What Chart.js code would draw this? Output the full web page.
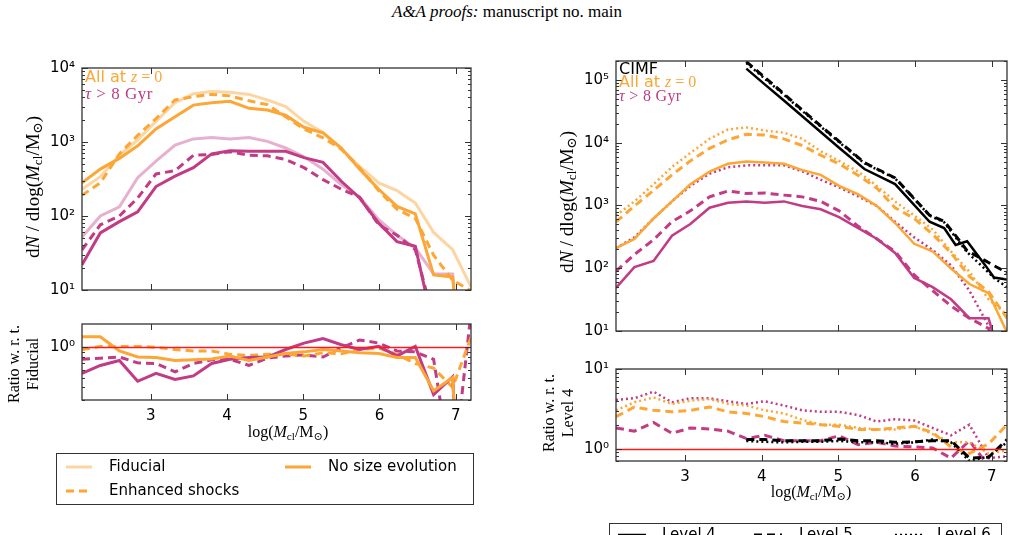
<!DOCTYPE html>
<html>
<head>
<meta charset="utf-8">
<script src="https://cdn.jsdelivr.net/npm/chart.js@4.4.0/dist/chart.umd.min.js"></script>
<style>
  body { margin: 0; width: 1014px; height: 535px; background: #fff; position: relative; overflow: hidden; font-family: "DejaVu Sans", sans-serif; }
  canvas { position: absolute; }
  .abs { position: absolute; white-space: nowrap; }
  .serif { font-family: "Liberation Serif", "DejaVu Serif", serif; }
  .rot { position: absolute; transform: translate(-50%, -50%) rotate(-90deg); white-space: nowrap; text-align: center; }
  .lg { position: absolute; border: 1.5px solid #333; background: #fff; }
  .lg .item { position: absolute; font-size: 15px; white-space: nowrap; }
  sub { font-size: 70%; vertical-align: -0.25em; line-height: 0; }
</style>
</head>
<body>

<div class="abs serif" style="left:0;top:2px;width:1014px;text-align:center;font-size:17px"><i>A&amp;A proofs:</i> manuscript no. main</div>

<canvas id="cLeftTop"></canvas>
<canvas id="cLeftRatio"></canvas>
<canvas id="cRightTop"></canvas>
<canvas id="cRightRatio"></canvas>

<!-- annotations -->
<div class="abs" style="left:85px;top:68px;font-size:16px;line-height:17px;color:#fca636">All at <span class="serif"><i>z</i> = 0</span></div>
<div class="abs serif" style="left:85px;top:84px;font-size:17px;letter-spacing:0.5px;color:#c23b85"><i>τ</i> &gt; 8 Gyr</div>

<div class="abs" style="left:619px;top:60px;font-size:16px;line-height:17px;color:#000">CIMF</div>
<div class="abs" style="left:619px;top:73px;font-size:16px;line-height:17px;color:#fca636">All at <span class="serif"><i>z</i> = 0</span></div>
<div class="abs serif" style="left:619px;top:87px;font-size:16px;letter-spacing:0.3px;color:#c23b85"><i>τ</i> &gt; 8 Gyr</div>

<!-- axis titles -->
<div class="rot serif" style="left:33px;top:187px;font-size:19px">d<i>N</i> / dlog(<i>M</i><sub>cl</sub>/M<sub>⊙</sub>)</div>
<div class="rot serif" style="left:567px;top:202px;font-size:19px">d<i>N</i> / dlog(<i>M</i><sub>cl</sub>/M<sub>⊙</sub>)</div>
<div class="rot serif" style="left:23px;top:364px;font-size:16px;line-height:19px">Ratio w. r. t.<br>Fiducial</div>
<div class="rot serif" style="left:558px;top:413px;font-size:16px;line-height:19px">Ratio w. r. t.<br>Level 4</div>
<div class="abs serif" style="left:228px;top:423px;width:120px;text-align:center;font-size:16px">log(<i>M</i><sub>cl</sub>/M<sub>⊙</sub>)</div>
<div class="abs serif" style="left:751px;top:483px;width:120px;text-align:center;font-size:16px">log(<i>M</i><sub>cl</sub>/M<sub>⊙</sub>)</div>

<!-- legends -->
<div class="lg" style="left:56px;top:453px;width:416px;height:50px">
  <svg class="item" style="left:9px;top:10px" width="28" height="6"><line x1="0" y1="3" x2="26" y2="3" stroke="#fdd5a2" stroke-width="3"/></svg>
  <div class="item" style="left:52px;top:3px">Fiducial</div>
  <svg class="item" style="left:228px;top:10px" width="28" height="6"><line x1="0" y1="3" x2="26" y2="3" stroke="#fca636" stroke-width="3"/></svg>
  <div class="item" style="left:271px;top:3px">No size evolution</div>
  <svg class="item" style="left:9px;top:34px" width="28" height="6"><line x1="0" y1="3" x2="26" y2="3" stroke="#fca636" stroke-width="3" stroke-dasharray="8,5"/></svg>
  <div class="item" style="left:52px;top:27px">Enhanced shocks</div>
</div>
<div class="lg" style="left:609px;top:523px;width:391px;height:40px">
  <svg class="item" style="left:8px;top:8px" width="30" height="6"><line x1="0" y1="3" x2="28" y2="3" stroke="#000" stroke-width="2.5"/></svg>
  <div class="item" style="left:52px;top:1px">Level 4</div>
  <svg class="item" style="left:144px;top:8px" width="30" height="6"><line x1="0" y1="3" x2="28" y2="3" stroke="#000" stroke-width="3" stroke-dasharray="8,5"/></svg>
  <div class="item" style="left:189px;top:1px">Level 5</div>
  <svg class="item" style="left:285px;top:8px" width="30" height="6"><line x1="0" y1="3" x2="28" y2="3" stroke="#000" stroke-width="2.5" stroke-dasharray="2,3"/></svg>
  <div class="item" style="left:327px;top:1px">Level 6</div>
</div>

<script>
// mass bins, log(Mcl/Msun)
const xBins = [2.10, 2.34, 2.59, 2.83, 3.07, 3.32, 3.56, 3.80, 4.04, 4.29, 4.53, 4.77, 5.01, 5.26, 5.50, 5.74, 5.99, 6.23, 6.47, 6.71, 6.96, 7.20];
const xTicks = [3, 4, 5, 6, 7];

// left panel: dN/dlogM, all at z=0 and tau > 8 Gyr
const fiducialAll = [230, 340, 660, 1070, 1900, 3400, 4500, 4800, 4700, 4400, 3700, 3000, 1900, 1350, 800, 470, 280, 220, 150, 60, 35, 11];
const fiducialOld = [52, 100, 133, 330, 550, 910, 1100, 1150, 1100, 1150, 1020, 830, 630, 430, 265, 180, 89, 55, 37, 16.5, 16.5, 0.01];
const shocksAll = [190, 280, 690, 1230, 2070, 3700, 4100, 4400, 4200, 3600, 3200, 2200, 1500, 1140, 800, 450, 220, 123, 93, 29.5, 13.5, 9.8];
const shocksOld = [35, 76, 100, 175, 370, 410, 660, 680, 740, 660, 650, 580, 450, 310, 230, 180, 76, 55, 35, 4, null, null];
const noSizeAll = [280, 430, 600, 890, 1500, 2200, 3150, 3400, 3550, 2850, 2700, 2300, 1580, 1330, 830, 430, 230, 135, 107, 16, 15, 0.01];
const noSizeOld = [22, 59, 84, 114, 250, 345, 450, 690, 760, 750, 750, 750, 615, 530, 295, 175, 80, 45, 39, 3, null, null];

// left panel: ratio w.r.t. fiducial
const ratioNoSizeAll = [1.27, 1.27, 0.92, 0.80, 0.79, 0.74, 0.75, 0.765, 0.82, 0.74, 0.80, 0.865, 0.90, 0.95, 0.92, 0.88, 0.865, 0.79, 0.79, 0.37, 0.50, 0.0001];
const ratioShocksAll = [0.95, 1.02, 1.02, 1.02, 1.0, 0.95, 0.92, 0.92, 0.85, 0.83, 0.85, 0.86, 0.82, 0.88, 0.86, 0.95, 0.98, 0.85, 0.69, 0.62, 0.40, 1.25];
const ratioNoSizeOld = [0.55, 0.66, 0.74, 0.46, 0.55, 0.48, 0.52, 0.69, 0.76, 0.79, 0.80, 0.95, 1.10, 1.22, 1.06, 0.95, 1.02, 0.82, 1.02, 0.34, 0.51, 0.0001];
const ratioShocksOld = [0.76, 0.78, 0.80, 0.70, 0.69, 0.57, 0.69, 0.75, 0.76, 0.66, 0.78, 0.82, 0.84, 0.80, 0.985, 1.18, 1.10, 0.92, 0.90, 0.76, 0.05, 2.2];

// right panel: resolution levels
const level4All = [208, 293, 620, 1160, 2170, 3450, 4600, 5000, 4850, 4600, 3650, 3070, 2050, 1500, 985, 525, 245, 185, 99, 56, 40, 9.5];
const level5All = [550, 980, 1740, 3070, 5130, 8100, 11100, 13600, 13200, 11500, 9000, 6300, 4600, 3000, 1900, 920, 620, 348, 175, 74, 42, 16];
const level6All = [690, 1160, 2170, 4100, 6860, 11500, 16200, 17500, 15600, 14400, 11500, 7300, 5130, 3450, 2050, 1160, 690, 415, 185, 88, 32, 18];
const level4Old = [48.5, 104, 131, 330, 505, 920, 1100, 1160, 1100, 1160, 980, 870, 650, 435, 295, 175, 70, 50, 32, 16, 16, 1.5];
const level5Old = [90, 165, 285, 550, 820, 1370, 1700, 1550, 1580, 1460, 1370, 1160, 820, 465, 295, 185, 78, 44, 25, 16, 11, 1];
const level6Old = [208, 310, 620, 1160, 2050, 3200, 4050, 4350, 4350, 4350, 3500, 2570, 1940, 1390, 985, 550, 310, 195, 111, 44, 12, 1];

// CIMF (own sampling)
const xCimf = [3.80, 4.04, 4.29, 4.53, 4.77, 5.01, 5.34, 5.74, 6.19, 6.38, 6.53, 6.68, 6.92, 7.03, 7.20];
const cimfLevel4 = [151000, 85000, 47000, 26300, 14800, 8300, 3800, 2190, 550, 436, 234, 269, 110, 71, 66];
const cimfLevel5 = [195000, 110000, 60000, 33000, 18500, 10500, 4800, 2750, 700, 560, 330, 190, 131, 110, 85];
const cimfLevel6 = [185000, 105000, 58000, 32000, 18000, 10200, 4700, 2700, 690, 540, 310, 180, 95, 70, 50];

// right panel: ratio w.r.t. level 4
const ratio5All = [2.52, 3.33, 3.03, 2.9, 3.03, 3.33, 2.9, 2.77, 2.52, 2.19, 2.1, 2.0, 1.91, 1.74, 1.74, 1.82, 1.91, 1.59, 1.05, 0.87, 1.15, 2.0];
const ratio6All = [3.03, 3.82, 4.39, 3.65, 4.0, 4.19, 3.65, 3.48, 3.03, 2.77, 2.30, 2.0, 2.0, 1.82, 1.74, 1.74, 1.91, 1.52, 1.2, 1.2, 0.87, 0.95];
const ratio5Old = [1.82, 1.66, 2.13, 1.56, 1.82, 1.77, 1.66, 1.34, 1.47, 1.26, 1.26, 1.26, 1.45, 1.12, 1.2, 1.08, 1.05, 1.02, 0.76, 1.26, 0.6, 0.5];
const ratio6Old = [4.08, 4.3, 5.2, 3.82, 4.3, 4.3, 3.93, 3.65, 3.93, 3.48, 3.03, 2.9, 2.9, 2.64, 2.19, 2.34, 2.26, 1.82, 1.47, 2.0, 0.76, 0.8];
const ratio5Cimf = [null, null, null, null, null, null, null, 1.3, 1.3, 1.26, 1.26, 1.26, 1.32, 1.26, 1.26, 1.2, 1.22, 1.26, 1.26, 0.76, 0.78, 1.3];
const ratio6Cimf = [null, null, null, null, null, null, null, 1.25, 1.22, 1.2, 1.22, 1.22, 1.25, 1.2, 1.2, 1.15, 1.2, 1.3, 1.2, 0.7, 0.8, 1.2];

const ORANGE = '#fca636', ORANGE_L = '#fdd5a2', PINK = '#c23b85', PINK_L = '#e6b0cf';
const DASH = [8, 5], DOT = [2, 3];
const SUP = { '-1': '⁻¹', '0': '⁰', '1': '¹', '2': '²', '3': '³', '4': '⁴', '5': '⁵' };

function line(xs, ys, color, width, dash) {
    return {
        data: xs.map((x, i) => ({ x: x, y: ys[i] })),
        borderColor: color,
        borderWidth: width,
        borderDash: dash || [],
        pointRadius: 0,
        tension: 0,
        fill: false,
        clip: 0
    };
}

// matplotlib-like frame with inward ticks on all four sides, plus the red "ratio = 1" line
const frameTicks = {
    id: 'frameTicks',
    afterDatasetsDraw(chart, args, opts) {
        const { ctx, chartArea: a, scales: { x, y } } = chart;
        ctx.save();
        if (opts.refLine) {
            const py = Math.round(y.getPixelForValue(opts.refLine)) + 0.5;
            ctx.strokeStyle = '#ff1a1a';
            ctx.lineWidth = 1.3;
            ctx.setLineDash([]);
            ctx.beginPath();
            ctx.moveTo(a.left, py);
            ctx.lineTo(a.right, py);
            ctx.stroke();
        }
        ctx.strokeStyle = '#333';
        ctx.lineWidth = 1;
        ctx.beginPath();
        xTicks.forEach(v => {
            const px = Math.round(x.getPixelForValue(v)) + 0.5;
            ctx.moveTo(px, a.bottom); ctx.lineTo(px, a.bottom - 6);
            ctx.moveTo(px, a.top); ctx.lineTo(px, a.top + 6);
        });
        const lo = Math.floor(Math.log10(y.min)), hi = Math.ceil(Math.log10(y.max));
        for (let e = lo; e <= hi; e++) {
            for (let m = 1; m < 10; m++) {
                const v = m * Math.pow(10, e);
                if (v < y.min * 0.999 || v > y.max * 1.001) continue;
                const py = Math.round(y.getPixelForValue(v)) + 0.5;
                const len = m === 1 ? 6 : 3;
                ctx.moveTo(a.left, py); ctx.lineTo(a.left + len, py);
                ctx.moveTo(a.right, py); ctx.lineTo(a.right - len, py);
            }
        }
        ctx.stroke();
        ctx.lineWidth = 1.3;
        ctx.strokeRect(a.left, a.top, a.right - a.left, a.bottom - a.top);
        ctx.restore();
    }
};

function makePanel(id, box, yMin, yMax, yLabels, showX, datasets, refLine) {
    const cv = document.getElementById(id);
    const yW = 62, padT = 12, padR = 8, xH = showX ? 30 : 2;
    const w = box.right - box.left + yW + padR;
    const h = box.bottom - box.top + padT + xH;
    cv.width = w; cv.height = h;
    cv.style.width = w + 'px'; cv.style.height = h + 'px';
    cv.style.left = (box.left - yW) + 'px';
    cv.style.top = (box.top - padT) + 'px';
    const font = { family: 'DejaVu Sans', size: 15 };
    new Chart(cv, {
        type: 'line',
        data: { datasets: datasets },
        options: {
            responsive: false,
            animation: false,
            events: [],
            layout: { padding: { top: padT, right: padR, left: 0, bottom: 0 } },
            plugins: { legend: { display: false }, tooltip: { enabled: false }, frameTicks: { refLine: refLine || 0 } },
            scales: {
                x: {
                    type: 'linear', min: 2.1, max: 7.2,
                    grid: { display: false, drawTicks: false },
                    border: { display: false },
                    ticks: { display: showX, padding: 7, font: font, color: '#000', autoSkip: false, maxRotation: 0 },
                    afterBuildTicks: s => { s.ticks = xTicks.map(v => ({ value: v })); },
                    afterFit: s => { s.height = xH; }
                },
                y: {
                    type: 'logarithmic', min: yMin, max: yMax,
                    grid: { display: false, drawTicks: false },
                    border: { display: false },
                    ticks: {
                        padding: 7, font: font, color: '#000', autoSkip: false,
                        callback: v => '10' + SUP[String(Math.round(Math.log10(v)))]
                    },
                    afterBuildTicks: s => { s.ticks = yLabels.map(v => ({ value: v })); },
                    afterFit: s => { s.width = yW; }
                }
            }
        },
        plugins: [frameTicks]
    });
}

makePanel('cLeftTop', { left: 82, right: 471, top: 64, bottom: 304 }, 10, 10000, [10, 100, 1000, 10000], false, [
    line(xBins, noSizeAll, ORANGE, 3),
    line(xBins, noSizeOld, PINK, 3),
    line(xBins, shocksAll, ORANGE, 3, DASH),
    line(xBins, shocksOld, PINK, 3, DASH),
    line(xBins, fiducialAll, ORANGE_L, 3),
    line(xBins, fiducialOld, PINK_L, 3)
]);

makePanel('cLeftRatio', { left: 82, right: 471, top: 320, bottom: 400 }, 0.3, 1.7, [1], true, [
    line(xBins, ratioNoSizeAll, ORANGE, 3),
    line(xBins, ratioNoSizeOld, PINK, 3),
    line(xBins, ratioShocksAll, ORANGE, 3, DASH),
    line(xBins, ratioShocksOld, PINK, 3, DASH)
], 1);

makePanel('cRightTop', { left: 616, right: 1007, top: 57, bottom: 345 }, 10, 200000, [10, 100, 1000, 10000, 100000], false, [
    line(xCimf, cimfLevel4, '#000', 2.5),
    line(xCimf, cimfLevel5, '#000', 3, DASH),
    line(xCimf, cimfLevel6, '#000', 2.5, DOT),
    line(xBins, level4All, ORANGE, 2.5),
    line(xBins, level5All, ORANGE, 3, DASH),
    line(xBins, level6All, ORANGE, 2.5, DOT),
    line(xBins, level4Old, PINK, 2.5),
    line(xBins, level5Old, PINK, 3, DASH),
    line(xBins, level6Old, PINK, 2.5, DOT)
]);

makePanel('cRightRatio', { left: 616, right: 1007, top: 365, bottom: 461 }, 0.7, 10, [1, 10], true, [
    line(xBins, ratio5Cimf, '#000', 3, DASH),
    line(xBins, ratio6Cimf, '#000', 2.5, DOT),
    line(xBins, ratio5All, ORANGE, 3, DASH),
    line(xBins, ratio6All, ORANGE, 2.5, DOT),
    line(xBins, ratio5Old, PINK, 3, DASH),
    line(xBins, ratio6Old, PINK, 2.5, DOT)
], 1);
</script>
</body>
</html>
